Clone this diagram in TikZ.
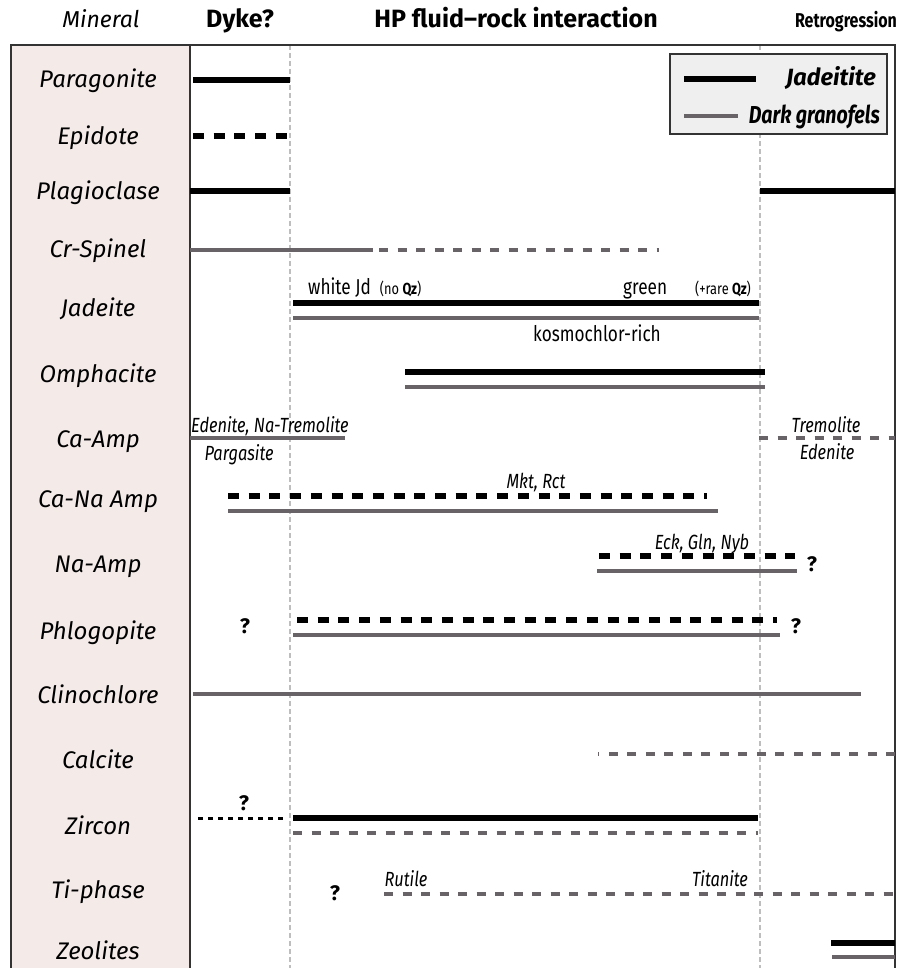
\documentclass[tikz,border=0pt]{standalone}
\usepackage{fontspec}
\setmainfont{Fira Sans}
\newfontfamily\narrowfont[FakeStretch=0.8]{Fira Sans}

\definecolor{granofels}{HTML}{676366}
\definecolor{guidegray}{HTML}{BEBEBE}
\definecolor{panelpink}{HTML}{F4EBE9}
\definecolor{legendgray}{HTML}{EFEFEF}
\definecolor{framegray}{HTML}{333333}

\begin{document}
\begin{tikzpicture}[
            x = 1pt, y = -1pt, % one unit per pixel, y pointing down
            jd/.style = {line width=5.5pt, black}, % jadeitite bar
            dg/.style = {line width=4.5pt, granofels}, % dark granofels bar
            jd dash/.style = {jd, dash pattern=on 11pt off 9.7pt},
            dg dash/.style = {dg, dash pattern=on 9pt off 9.5pt},
            jd dot/.style = {line width=3pt, black, dash pattern=on 5pt off 5pt},
            guide/.style = {line width=1.3pt, guidegray, dash pattern=on 5pt off 3pt},
            frame/.style = {line width=1.5pt, framegray},
            mineral/.style = {anchor=base, inner sep=0pt, font=\fontsize{24}{26}\selectfont\itshape},
            header/.style = {anchor=base, inner sep=0pt, font=\fontsize{25}{28}\selectfont\bfseries},
            phase/.style = {anchor=base, inner sep=0pt, font=\narrowfont\fontsize{20.5}{22}\selectfont\itshape},
            note/.style = {anchor=base, inner sep=0pt, font=\narrowfont\fontsize{21.5}{24}\selectfont},
            query/.style = {anchor=base, inner sep=0pt, font=\fontsize{21}{22}\selectfont\bfseries}
        ]
	\useasboundingbox (0,0) rectangle (909,968);

	% frame and mineral column
	\fill[panelpink] (11,45) rectangle (190,968);
	\draw[guide] (290,45) -- (290,968);
	\draw[guide] (760,45) -- (760,968);
	\draw[frame] (11,968) -- (11,45) -- (895,45) -- (895,968);
	\draw[frame] (190,45) -- (190,968);

	% headers
	\node[header, font=\fontsize{23}{26}\selectfont\itshape] (hmineral) at (101,28) {Mineral};
	\node[header] (hdyke) at (240,28) {Dyke?};
	\node[header] (hhp) at (516,28) {HP fluid–rock interaction};
	\node[header, font=\narrowfont\fontsize{20}{22}\selectfont\bfseries] (hretro) at (846,28) {Retrogression};

	% legend
	\draw[frame, fill=legendgray, line width=1.2pt] (670,54) rectangle (887,134);
	\draw[jd] (684,79) -- (756,79);
	\draw[dg] (684,116) -- (738,116);
	\node[anchor=base east, inner sep=0pt, font=\fontsize{23.5}{26}\selectfont\bfseries\itshape] (ljd) at (876,86) {Jadeitite};
	\node[anchor=base east, inner sep=0pt, font=\narrowfont\fontsize{24.5}{26}\selectfont\bfseries\itshape] (ldg) at (880,124) {Dark granofels};

	% minerals
	\node[mineral] (paragonite) at (98,88) {Paragonite};
	\node[mineral] (epidote) at (98,145) {Epidote};
	\node[mineral] (plagioclase) at (98,200) {Plagioclase};
	\node[mineral] (crspinel) at (98,257) {Cr-Spinel};
	\node[mineral] (jadeite) at (98,316) {Jadeite};
	\node[mineral] (omphacite) at (98,382) {Omphacite};
	\node[mineral] (caamp) at (98,447) {Ca-Amp};
	\node[mineral] (canaamp) at (98,507) {Ca-Na Amp};
	\node[mineral] (naamp) at (98,572) {Na-Amp};
	\node[mineral] (phlogopite) at (98,639) {Phlogopite};
	\node[mineral] (clinochlore) at (98,703) {Clinochlore};
	\node[mineral] (calcite) at (98,768) {Calcite};
	\node[mineral] (zircon) at (98,834) {Zircon};
	\node[mineral] (tiphase) at (98,898) {Ti-phase};
	\node[mineral] (zeolites) at (98,959) {Zeolites};

	% bars
	\draw[jd] (193,80) -- (290,80);
	\draw[jd dash] (193,136) -- (290,136);
	\draw[jd] (190,191) -- (290,191);
	\draw[jd] (760,191) -- (895,191);
	\draw[dg] (190,250) -- (373,250);
	\draw[dg dash] (379,250) -- (659,250);

	\draw[jd] (293,303) -- (759,303);
	\draw[dg] (293,318) -- (759,318);
	\node[note, anchor=base west] (whitejd) at (308,294) {white Jd\ \ {\fontsize{16}{18}\selectfont(no \textbf{Qz})}};
	\node[note, anchor=base west] (green) at (623,294) {green};
	\node[note, anchor=base west] (rareqz) at (695,294) {\fontsize{16}{18}\selectfont(+rare \textbf{Qz})};
	\node[note] (kosmo) at (597,341) {kosmochlor-rich};

	\draw[jd] (405,372) -- (765,372);
	\draw[dg] (405,387) -- (765,387);

	\draw[dg] (190,438) -- (345,438);
	\draw[dg dash] (759,438) -- (895,438);
	\node[phase, anchor=base west] (edenite) at (191,432) {Edenite, Na-Tremolite};
	\node[phase] (pargasite) at (239,460) {Pargasite};
	\node[phase] (tremolite) at (826,432) {Tremolite};
	\node[phase] (edenite2) at (827,459) {Edenite};

	\draw[jd dash] (228,496) -- (707,496);
	\draw[dg] (228,511) -- (718,511);
	\node[phase] (mkt) at (536,488) {Mkt, Rct};

	\draw[jd dash] (599,556) -- (795,556);
	\draw[dg] (597,571) -- (797,571);
	\node[phase] (eck) at (702,549) {Eck, Gln, Nyb};
	\node[query] (qna) at (812,571) {?};

	\draw[jd dash] (297,620) -- (777,620);
	\draw[dg] (293,635) -- (780,635);
	\node[query] (qphl) at (245,633) {?};
	\node[query] (qphr) at (796,633) {?};

	\draw[dg] (193,694) -- (861,694);

	\draw[dg dash] (895,754) -- (598,754);

	\draw[jd dot] (198,818) -- (284,818);
	\draw[jd] (293,818) -- (758,818);
	\draw[dg dash] (293,833) -- (758,833);
	\node[query] (qzr) at (244,810) {?};

	\draw[dg dash] (384,894) -- (895,894);
	\node[phase] (rutile) at (406,886) {Rutile};
	\node[phase] (titanite) at (720,886) {Titanite};
	\node[query] (qti) at (335,900) {?};

	\draw[jd] (831,943) -- (895,943);
	\draw[dg] (832,957) -- (895,957);

\end{tikzpicture}
\end{document}
